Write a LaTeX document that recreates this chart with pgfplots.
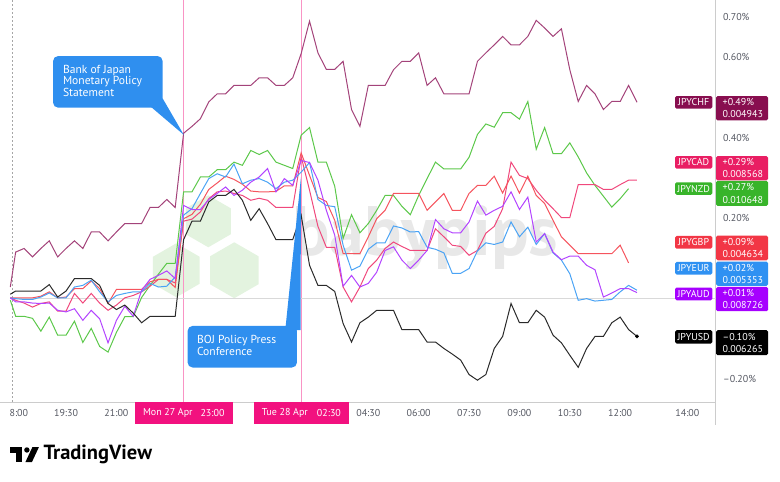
\documentclass[border=0pt]{standalone}
\usepackage{pgfplots}
\pgfplotsset{compat=1.18}
\usepackage{pgfplotstable}
\usepackage{fontspec}
\setmainfont{PT Sans}
\newcommand{\fs}[1]{\fontsize{#1}{#1}\selectfont}
\definecolor{chfL}{HTML}{A3437A}
\definecolor{cadL}{HTML}{F0487C}
\definecolor{nzdL}{HTML}{5CC84A}
\definecolor{gbpL}{HTML}{F5545E}
\definecolor{eurL}{HTML}{4AA3F5}
\definecolor{audL}{HTML}{B344FF}
\definecolor{usdL}{HTML}{2A2A2A}
\definecolor{chfT}{HTML}{880E4F}
\definecolor{cadT}{HTML}{E91E63}
\definecolor{nzdT}{HTML}{38B42A}
\definecolor{gbpT}{HTML}{F23645}
\definecolor{eurT}{HTML}{2F91F2}
\definecolor{audT}{HTML}{A600FF}
\definecolor{usdT}{HTML}{000000}
\definecolor{lblpink}{HTML}{F2117F}
\colorlet{evline}{lblpink!45!white}
\definecolor{callout}{HTML}{2F8FEF}
\definecolor{axtext}{HTML}{555862}
\definecolor{wmgreen}{HTML}{E3F3DF}
\definecolor{wmgray}{HTML}{E8E8E8}
\newcommand{\ptag}[8]{%
  \fill[#1, rounded corners=1.5pt] (675,#3) rectangle (712.3,#4);
  \node[text=white, font=\fs{10}, inner sep=0] at (693.6,{(#3+#4)/2}) {#2};
  \fill[#1, rounded corners=1.5pt] (716,#5) rectangle (768,#6);
  \node[text=white, font=\fs{10}, anchor=west, inner sep=0] at (722.5,{#5+6.3}) {#7};
  \node[text=white, font=\fs{10}, anchor=west, inner sep=0] at (722.5,{#6-6}) {#8};
}
\begin{document}
\pgfplotstableread{
t chf cad nzd gbp eur aud usd
-0.16 0.028 0.001 -0.005 0.001 0.001 0.001 0.010
0 0.115 -0.005 -0.045 0.001 -0.001 -0.009 0.018
0.25 0.124 -0.012 -0.045 0.001 -0.003 -0.009 0.018
0.5 0.103 -0.022 -0.050 0.001 -0.003 -0.012 0.018
0.75 0.124 -0.013 -0.082 0.005 0.003 -0.013 0.018
1 0.143 -0.009 -0.047 0.016 0.013 -0.012 0.034
1.25 0.103 -0.032 -0.092 0.001 0.001 -0.030 0.003
1.5 0.124 -0.032 -0.092 0.003 0.001 -0.034 0.018
1.75 0.143 0.012 -0.057 0.024 0.028 -0.026 0.049
2 0.124 -0.012 -0.110 0.024 0.032 -0.055 0.049
2.25 0.165 0.012 -0.075 0.043 0.045 -0.030 0.049
2.5 0.165 -0.012 -0.120 0.024 0.016 -0.051 0.032
2.75 0.143 -0.030 -0.134 -0.013 -0.009 -0.111 -0.013
3 0.165 -0.017 -0.085 0.022 0.007 -0.055 -0.028
3.25 0.186 0.001 -0.046 0.022 0.012 -0.020 -0.017
3.5 0.186 0.007 -0.046 0.022 0.016 -0.045 -0.037
3.75 0.186 0.016 0.002 0.022 0.016 0.020 -0.061
4 0.226 0.030 0.032 0.041 0.037 0.047 -0.045
4.25 0.226 0.047 0.060 0.047 0.028 0.057 -0.045
4.5 0.246 0.047 0.087 0.047 0.030 0.068 -0.045
4.75 0.226 0.038 0.087 0.027 0.053 0.049 -0.045
5 0.411 0.192 0.265 0.198 0.207 0.231 0.146
5.25 0.428 0.197 0.265 0.209 0.223 0.221 0.192
5.5 0.447 0.215 0.302 0.234 0.261 0.221 0.192
5.75 0.489 0.248 0.302 0.271 0.298 0.246 0.240
6 0.509 0.265 0.320 0.287 0.310 0.261 0.256
6.25 0.509 0.267 0.320 0.304 0.302 0.277 0.256
6.5 0.530 0.261 0.339 0.296 0.334 0.256 0.271
6.75 0.530 0.256 0.331 0.284 0.285 0.269 0.244
7 0.530 0.244 0.368 0.267 0.294 0.289 0.194
7.25 0.549 0.249 0.358 0.265 0.298 0.302 0.223
7.5 0.549 0.244 0.368 0.265 0.289 0.323 0.186
7.75 0.530 0.226 0.339 0.266 0.273 0.265 0.146
8 0.530 0.226 0.331 0.280 0.289 0.298 0.146
8.25 0.549 0.226 0.323 0.280 0.294 0.281 0.146
8.5 0.609 0.353 0.406 0.362 0.314 0.343 0.207
8.75 0.690 0.269 0.425 0.306 0.338 0.338 0.082
9 0.611 0.179 0.339 0.251 0.246 0.294 0.032
9.25 0.570 0.127 0.339 0.241 0.231 0.219 0.032
9.5 0.570 0.127 0.279 0.194 0.228 0.157 0.017
9.75 0.590 0.028 0.149 0.111 0.132 0.030 -0.063
10 0.470 -0.009 0.208 0.111 0.070 0.057 -0.109
10.25 0.428 0.028 0.163 0.111 0.080 0.028 -0.061
10.5 0.530 0.074 0.186 0.153 0.122 0.037 -0.047
10.75 0.530 0.095 0.219 0.198 0.138 0.065 -0.030
11 0.530 0.124 0.256 0.219 0.138 0.119 -0.030
11.25 0.569 0.140 0.256 0.261 0.180 0.128 -0.030
11.5 0.590 0.129 0.229 0.261 0.175 0.095 -0.078
11.75 0.590 0.119 0.208 0.261 0.165 0.074 -0.078
12 0.611 0.119 0.256 0.261 0.166 0.095 -0.078
12.25 0.530 0.119 0.298 0.219 0.127 0.119 -0.109
12.5 0.549 0.173 0.339 0.240 0.122 0.196 -0.109
12.75 0.509 0.153 0.322 0.261 0.113 0.173 -0.125
13 0.509 0.132 0.322 0.219 0.062 0.163 -0.139
13.25 0.509 0.129 0.322 0.219 0.062 0.163 -0.154
13.5 0.509 0.107 0.351 0.261 0.074 0.190 -0.190
13.75 0.590 0.119 0.408 0.281 0.118 0.242 -0.204
14 0.611 0.162 0.434 0.281 0.138 0.207 -0.190
14.25 0.631 0.179 0.426 0.304 0.134 0.219 -0.125
14.5 0.652 0.223 0.462 0.262 0.140 0.229 -0.095
14.75 0.631 0.339 0.462 0.304 0.190 0.265 -0.013
15 0.631 0.306 0.446 0.262 0.153 0.221 -0.061
15.25 0.652 0.298 0.490 0.304 0.177 0.252 -0.061
15.5 0.692 0.269 0.371 0.256 0.134 0.140 -0.030
15.75 0.673 0.244 0.425 0.236 0.161 0.161 -0.047
16 0.652 0.223 0.360 0.194 0.113 0.115 -0.092
16.25 0.671 0.201 0.360 0.153 0.095 0.096 -0.111
16.5 0.569 0.201 0.387 0.132 0.061 0.105 -0.142
16.75 0.490 0.283 0.352 0.111 -0.005 0.105 -0.172
17 0.530 0.283 0.312 0.111 -0.001 0.082 -0.125
17.25 0.509 0.283 0.281 0.111 -0.007 0.071 -0.095
17.5 0.470 0.271 0.254 0.111 -0.005 0.003 -0.095
17.75 0.490 0.271 0.227 0.111 -0.003 0.013 -0.061
18 0.490 0.283 0.248 0.132 0.016 0.024 -0.047
18.25 0.530 0.294 0.273 0.088 0.032 0.024 -0.078
18.5 0.488 0.294 nan nan 0.020 0.014 -0.095
}\datatable
\begin{tikzpicture}
\begin{scope}[x=1pt,y=-1pt]
\useasboundingbox (0,0) rectangle (780,481);
% watermark
\foreach \cx/\cy/\r in {208/221/26, 176/270/27, 234/270/28}{
  \fill[wmgreen] (\cx,\cy) +(30:\r) -- +(90:\r) -- +(150:\r) -- +(210:\r) -- +(270:\r) -- +(330:\r) -- cycle;
}
\node[text=wmgray, font=\bfseries\fs{70}] at (425,238) {babypips};
% event lines (drawn at the axis' x positions 5 and 8.5)
\draw[evline, line width=1pt] (183.3,0) -- (183.3,401.7);
\draw[evline, line width=1pt] (300.9,0) -- (300.9,401.7);
\end{scope}
\begin{axis}[
  at={(0pt,-401.7pt)}, anchor=south west, scale only axis,
  width=715.7pt, height=401.7pt,
  xmin=-0.455, xmax=20.845, ymin=-0.2581, ymax=0.7417,
  axis x line*=bottom, axis y line*=right,
  axis line style={draw=gray!40, line width=0.8pt},
  xtick={1.5,3,10.5,12,13.5,15,16.5,18,20},
  xticklabels={19:30,21:00,04:30,06:00,07:30,09:00,10:30,12:00,14:00},
  ytick={-0.2,0.2,0.4,0.6,0.7},
  yticklabels={–0.20\%,0.20\%,0.40\%,0.60\%,0.70\%},
  yticklabel pos=right,
  major tick length=0pt,
  tick label style={font=\fs{10}, text=axtext},
  xticklabel style={anchor=center, yshift=-11.3pt},
  yticklabel style={anchor=west, inner sep=0pt, xshift=7.3pt},
  clip=true,
]
\addplot[no markers, draw=gray!30, line width=0.8pt] coordinates {(-0.107,0) (20.845,0)};
\addplot[no markers, draw=gray!70, dash pattern=on 2pt off 2pt, line width=0.8pt] coordinates {(-0.107,-0.2581) (-0.107,0.7417)};
\addplot[no markers, chfL, line width=1pt] table[x=t,y=chf]{\datatable};
\addplot[no markers, nzdL, line width=1pt] table[x=t,y=nzd]{\datatable};
\addplot[no markers, cadL, line width=1pt] table[x=t,y=cad]{\datatable};
\addplot[no markers, gbpL, line width=1pt] table[x=t,y=gbp]{\datatable};
\addplot[no markers, eurL, line width=1pt] table[x=t,y=eur]{\datatable};
\addplot[no markers, audL, line width=1pt] table[x=t,y=aud]{\datatable};
\addplot[no markers, usdL, line width=1pt] table[x=t,y=usd]{\datatable};
\addplot[only marks, mark=*, mark size=1.7pt, black] coordinates {(18.5,-0.095)};
\end{axis}
\begin{scope}[x=1pt,y=-1pt]
\draw[gray!40, line width=0.8pt] (715.7,401.7) -- (715.7,425);
\node[anchor=west, inner sep=0, text=axtext, font=\fs{10}] at (9,413) {8:00};
% price tags
\ptag{chfT}{JPYCHF}{95.7}{108.3}{95.7}{120}{+0.49\%}{0.004943}
\ptag{cadT}{JPYCAD}{155.7}{168.3}{155.7}{180}{+0.29\%}{0.008568}
\ptag{nzdT}{JPYNZD}{182}{194.5}{180.5}{205.5}{+0.27\%}{0.010648}
\ptag{gbpT}{JPYGBP}{235.7}{248.3}{235.3}{260}{+0.09\%}{0.004634}
\ptag{eurT}{JPYEUR}{261.7}{274.3}{261.3}{285.5}{+0.02\%}{0.005353}
\ptag{audT}{JPYAUD}{287.3}{300}{286.7}{311}{+0.01\%}{0.008726}
\ptag{usdT}{JPYUSD}{330}{343.3}{330}{355}{–0.10\%}{0.006265}
% callouts
\fill[callout, rounded corners=5pt] (52.7,55.7) rectangle (162.3,107.3);
\fill[callout] (150,106) -- (183.5,134.5) -- (162.3,98) -- cycle;
\node[anchor=west, inner sep=0, text=white, font=\fs{11.6}] at (62.5,70.5) {Bank of Japan};
\node[anchor=west, inner sep=0, text=white, font=\fs{11.6}] at (62.5,81.5) {Monetary Policy};
\node[anchor=west, inner sep=0, text=white, font=\fs{11.6}] at (62.5,92.5) {Statement};
\fill[callout, rounded corners=5pt] (187.3,325.7) rectangle (296.7,367.3);
\fill[callout] (285,330) -- (300.3,330) -- (300.7,177) -- cycle;
\node[anchor=west, inner sep=0, text=white, font=\fs{11.6}] at (196.5,340.5) {BOJ Policy Press};
\node[anchor=west, inner sep=0, text=white, font=\fs{11.6}] at (196.5,351.5) {Conference};
% pink date labels
\fill[lblpink] (135,401.7) rectangle (232.5,423.5);
\node[anchor=west, inner sep=0, text=white, font=\fs{10}] at (142.5,413) {Mon 27 Apr};
\node[anchor=west, inner sep=0, text=white, font=\fs{10}] at (200,413) {23:00};
\fill[lblpink] (254,401.7) rectangle (348.5,423.5);
\node[anchor=west, inner sep=0, text=white, font=\fs{10}] at (261.5,413) {Tue 28 Apr};
\node[anchor=west, inner sep=0, text=white, font=\fs{10}] at (316.5,413) {02:30};
% TradingView logo
\fill[black] (10,447) rectangle (22,452.5);
\fill[black] (16,447) rectangle (22,462);
\fill[black] (26.5,449.8) circle (2.7);
\fill[black] (25,462) -- (31.5,462) -- (38.5,447) -- (32,447) -- cycle;
\node[anchor=west, inner sep=0, font=\bfseries\fs{20.5}] at (43,454.5) {TradingView};
\end{scope}
\end{tikzpicture}
\end{document}
